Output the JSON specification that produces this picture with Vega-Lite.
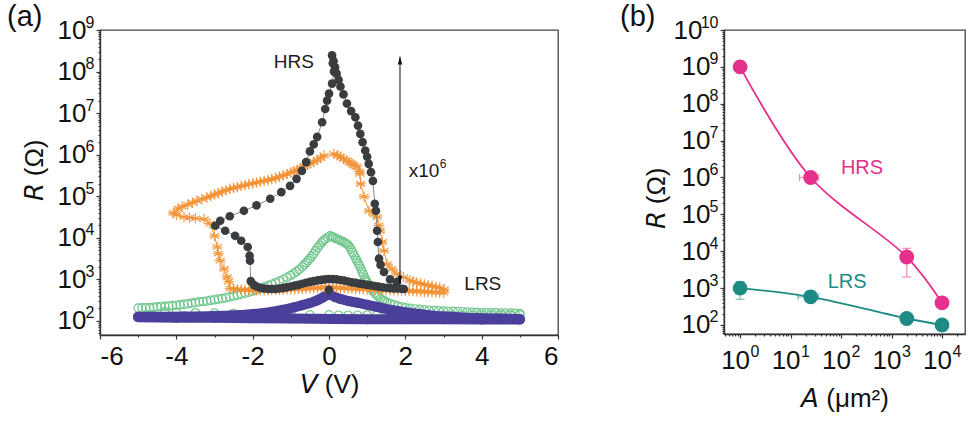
{
  "$schema": "https://vega.github.io/schema/vega-lite/v6.json",
  "background": "white",
  "padding": {"left": 6, "top": 2, "right": 2, "bottom": 0},
  "spacing": 59,
  "config": {
    "font": "Liberation Sans",
    "view": {"stroke": "#444", "strokeWidth": 1.3},
    "axis": {
      "domainColor": "#333", "domainWidth": 1.4, "tickColor": "#333", "tickWidth": 1.2, "tickSize": 4,
      "labelFont": "Liberation Sans", "labelFontSize": 26, "labelColor": "#111", "labelPadding": 3,
      "titleFont": "Liberation Sans", "titleFontSize": 26, "titleFontWeight": "normal", "titleColor": "#111",
      "grid": false
    },
    "title": {"font": "Liberation Sans", "fontSize": 29, "fontWeight": "normal", "color": "#111", "anchor": "start", "frame": "bounds"}
  },
  "datasets": {
    "iv": [
      {"s": "blk", "o": 1, "V": 0.08, "R": 2.45e8},
      {"s": "blk", "o": 2, "V": 0.12, "R": 1.78e8},
      {"s": "blk", "o": 3, "V": 0.16, "R": 1.26e8},
      {"s": "blk", "o": 4, "V": 0.2, "R": 8.91e7},
      {"s": "blk", "o": 5, "V": 0.25, "R": 6.31e7},
      {"s": "blk", "o": 6, "V": 0.3, "R": 4.37e7},
      {"s": "blk", "o": 7, "V": 0.38, "R": 2.82e7},
      {"s": "blk", "o": 8, "V": 0.47, "R": 1.7e7},
      {"s": "blk", "o": 9, "V": 0.58, "R": 1.12e7},
      {"s": "blk", "o": 10, "V": 0.69, "R": 7.94e6},
      {"s": "blk", "o": 11, "V": 0.76, "R": 5.01e6},
      {"s": "blk", "o": 12, "V": 0.82, "R": 3.16e6},
      {"s": "blk", "o": 13, "V": 0.88, "R": 2.0e6},
      {"s": "blk", "o": 14, "V": 0.95, "R": 1.26e6},
      {"s": "blk", "o": 15, "V": 1.0, "R": 8.91e5},
      {"s": "blk", "o": 16, "V": 1.04, "R": 6.03e5},
      {"s": "blk", "o": 17, "V": 1.1, "R": 3.8e5},
      {"s": "blk", "o": 18, "V": 1.15, "R": 2.34e5},
      {"s": "blk", "o": 19, "V": 1.2, "R": 6.61e4},
      {"s": "blk", "o": 20, "V": 1.23, "R": 4.47e4},
      {"s": "blk", "o": 21, "V": 1.26, "R": 1.48e4},
      {"s": "blk", "o": 22, "V": 1.28, "R": 7940},
      {"s": "blk", "o": 23, "V": 1.31, "R": 3160},
      {"s": "blk", "o": 24, "V": 1.35, "R": 2240},
      {"s": "blk", "o": 25, "V": 1.44, "R": 1510},
      {"s": "blk", "o": 26, "V": 1.6, "R": 1000},
      {"s": "blk", "o": 27, "V": 1.78, "R": 871},
      {"s": "blk", "o": 28, "V": 1.96, "R": 589},
      {"s": "blk", "o": 29, "V": 1.9, "R": 596},
      {"s": "blk", "o": 30, "V": 1.8, "R": 603},
      {"s": "blk", "o": 31, "V": 1.7, "R": 610},
      {"s": "blk", "o": 32, "V": 1.6, "R": 617},
      {"s": "blk", "o": 33, "V": 1.5, "R": 631},
      {"s": "blk", "o": 34, "V": 1.4, "R": 646},
      {"s": "blk", "o": 35, "V": 1.3, "R": 668},
      {"s": "blk", "o": 36, "V": 1.2, "R": 692},
      {"s": "blk", "o": 37, "V": 1.1, "R": 716},
      {"s": "blk", "o": 38, "V": 1.0, "R": 741},
      {"s": "blk", "o": 39, "V": 0.9, "R": 767},
      {"s": "blk", "o": 40, "V": 0.8, "R": 794},
      {"s": "blk", "o": 41, "V": 0.7, "R": 822},
      {"s": "blk", "o": 42, "V": 0.6, "R": 851},
      {"s": "blk", "o": 43, "V": 0.5, "R": 891},
      {"s": "blk", "o": 44, "V": 0.4, "R": 933},
      {"s": "blk", "o": 45, "V": 0.3, "R": 966},
      {"s": "blk", "o": 46, "V": 0.2, "R": 1000},
      {"s": "blk", "o": 47, "V": 0.1, "R": 1012},
      {"s": "blk", "o": 48, "V": 0.0, "R": 1023},
      {"s": "blk", "o": 49, "V": -0.1, "R": 1000},
      {"s": "blk", "o": 50, "V": -0.2, "R": 977},
      {"s": "blk", "o": 51, "V": -0.3, "R": 944},
      {"s": "blk", "o": 52, "V": -0.4, "R": 912},
      {"s": "blk", "o": 53, "V": -0.5, "R": 871},
      {"s": "blk", "o": 54, "V": -0.6, "R": 832},
      {"s": "blk", "o": 55, "V": -0.7, "R": 785},
      {"s": "blk", "o": 56, "V": -0.8, "R": 741},
      {"s": "blk", "o": 57, "V": -0.9, "R": 708},
      {"s": "blk", "o": 58, "V": -1.0, "R": 676},
      {"s": "blk", "o": 59, "V": -1.1, "R": 646},
      {"s": "blk", "o": 60, "V": -1.2, "R": 617},
      {"s": "blk", "o": 61, "V": -1.3, "R": 603},
      {"s": "blk", "o": 62, "V": -1.4, "R": 589},
      {"s": "blk", "o": 63, "V": -1.5, "R": 589},
      {"s": "blk", "o": 64, "V": -1.6, "R": 589},
      {"s": "blk", "o": 65, "V": -1.7, "R": 603},
      {"s": "blk", "o": 66, "V": -1.8, "R": 631},
      {"s": "blk", "o": 67, "V": -1.9, "R": 676},
      {"s": "blk", "o": 68, "V": -1.97, "R": 741},
      {"s": "blk", "o": 69, "V": -2.05, "R": 912},
      {"s": "blk", "o": 70, "V": -2.07, "R": 2820},
      {"s": "blk", "o": 71, "V": -2.08, "R": 3720},
      {"s": "blk", "o": 72, "V": -2.13, "R": 6030},
      {"s": "blk", "o": 73, "V": -2.3, "R": 8510},
      {"s": "blk", "o": 74, "V": -2.46, "R": 11200},
      {"s": "blk", "o": 75, "V": -2.72, "R": 14800},
      {"s": "blk", "o": 76, "V": -2.98, "R": 19500},
      {"s": "blk", "o": 77, "V": -2.85, "R": 25700},
      {"s": "blk", "o": 78, "V": -2.6, "R": 33100},
      {"s": "blk", "o": 79, "V": -2.23, "R": 44700},
      {"s": "blk", "o": 80, "V": -1.9, "R": 60300},
      {"s": "blk", "o": 81, "V": -1.54, "R": 87100},
      {"s": "blk", "o": 82, "V": -1.25, "R": 126000},
      {"s": "blk", "o": 83, "V": -1.02, "R": 178000},
      {"s": "blk", "o": 84, "V": -0.85, "R": 263000},
      {"s": "blk", "o": 85, "V": -0.71, "R": 407000},
      {"s": "blk", "o": 86, "V": -0.6, "R": 661000},
      {"s": "blk", "o": 87, "V": -0.5, "R": 1.2e6},
      {"s": "blk", "o": 88, "V": -0.4, "R": 1.78e6},
      {"s": "blk", "o": 89, "V": -0.31, "R": 2.69e6},
      {"s": "blk", "o": 90, "V": -0.18, "R": 6.03e6},
      {"s": "blk", "o": 91, "V": -0.1, "R": 1.26e7},
      {"s": "blk", "o": 92, "V": -0.05, "R": 2.0e7},
      {"s": "blk", "o": 93, "V": 0.0, "R": 2.95e7},
      {"s": "blk", "o": 94, "V": 0.08, "R": 5.13e7},
      {"s": "blk", "o": 95, "V": 0.13, "R": 1.0e8},
      {"s": "blk", "o": 96, "V": 0.1, "R": 1.58e8},
      {"s": "blk0", "o": 1, "V": 0.0, "R": 562},

      {"s": "org", "o": 1, "V": 0.13, "R": 1.05e6},
      {"s": "org", "o": 2, "V": 0.22, "R": 966000},
      {"s": "org", "o": 3, "V": 0.3, "R": 891000},
      {"s": "org", "o": 4, "V": 0.38, "R": 804000},
      {"s": "org", "o": 5, "V": 0.47, "R": 724000},
      {"s": "org", "o": 6, "V": 0.53, "R": 661000},
      {"s": "org", "o": 7, "V": 0.6, "R": 603000},
      {"s": "org", "o": 8, "V": 0.66, "R": 556000},
      {"s": "org", "o": 9, "V": 0.73, "R": 513000},
      {"s": "org", "o": 10, "V": 0.8, "R": 398000},
      {"s": "org", "o": 11, "V": 0.81, "R": 347000},
      {"s": "org", "o": 12, "V": 0.83, "R": 200000},
      {"s": "org", "o": 13, "V": 0.92, "R": 97700},
      {"s": "org", "o": 14, "V": 1.05, "R": 44700},
      {"s": "org", "o": 15, "V": 1.18, "R": 37200},
      {"s": "org", "o": 16, "V": 1.26, "R": 31600},
      {"s": "org", "o": 17, "V": 1.3, "R": 20000},
      {"s": "org", "o": 18, "V": 1.34, "R": 14800},
      {"s": "org", "o": 19, "V": 1.4, "R": 7940},
      {"s": "org", "o": 20, "V": 1.44, "R": 4900},
      {"s": "org", "o": 21, "V": 1.52, "R": 2340},
      {"s": "org", "o": 22, "V": 1.65, "R": 1780},
      {"s": "org", "o": 23, "V": 1.78, "R": 1350},
      {"s": "org", "o": 24, "V": 1.95, "R": 1120},
      {"s": "org", "o": 25, "V": 2.12, "R": 955},
      {"s": "org", "o": 26, "V": 2.2, "R": 900},
      {"s": "org", "o": 27, "V": 2.3, "R": 832},
      {"s": "org", "o": 28, "V": 2.4, "R": 794},
      {"s": "org", "o": 29, "V": 2.5, "R": 759},
      {"s": "org", "o": 30, "V": 2.6, "R": 724},
      {"s": "org", "o": 31, "V": 2.7, "R": 692},
      {"s": "org", "o": 32, "V": 2.8, "R": 661},
      {"s": "org", "o": 33, "V": 2.9, "R": 631},
      {"s": "org", "o": 34, "V": 3.02, "R": 575},
      {"s": "org", "o": 35, "V": 3.0, "R": 479},
      {"s": "org", "o": 36, "V": 2.9, "R": 485},
      {"s": "org", "o": 37, "V": 2.8, "R": 490},
      {"s": "org", "o": 38, "V": 2.7, "R": 495},
      {"s": "org", "o": 39, "V": 2.6, "R": 501},
      {"s": "org", "o": 40, "V": 2.5, "R": 507},
      {"s": "org", "o": 41, "V": 2.4, "R": 513},
      {"s": "org", "o": 42, "V": 2.3, "R": 519},
      {"s": "org", "o": 43, "V": 2.2, "R": 525},
      {"s": "org", "o": 44, "V": 2.1, "R": 531},
      {"s": "org", "o": 45, "V": 2.0, "R": 537},
      {"s": "org", "o": 46, "V": 1.9, "R": 543},
      {"s": "org", "o": 47, "V": 1.8, "R": 550},
      {"s": "org", "o": 48, "V": 1.7, "R": 550},
      {"s": "org", "o": 49, "V": 1.6, "R": 550},
      {"s": "org", "o": 50, "V": 1.5, "R": 556},
      {"s": "org", "o": 51, "V": 1.4, "R": 562},
      {"s": "org", "o": 52, "V": 1.3, "R": 562},
      {"s": "org", "o": 53, "V": 1.2, "R": 562},
      {"s": "org", "o": 54, "V": 1.1, "R": 569},
      {"s": "org", "o": 55, "V": 1.0, "R": 575},
      {"s": "org", "o": 56, "V": 0.9, "R": 582},
      {"s": "org", "o": 57, "V": 0.8, "R": 589},
      {"s": "org", "o": 58, "V": 0.7, "R": 596},
      {"s": "org", "o": 59, "V": 0.6, "R": 603},
      {"s": "org", "o": 60, "V": 0.5, "R": 610},
      {"s": "org", "o": 61, "V": 0.4, "R": 617},
      {"s": "org", "o": 62, "V": 0.3, "R": 624},
      {"s": "org", "o": 63, "V": 0.2, "R": 631},
      {"s": "org", "o": 64, "V": 0.1, "R": 639},
      {"s": "org", "o": 65, "V": 0.0, "R": 646},
      {"s": "org", "o": 66, "V": -0.1, "R": 639},
      {"s": "org", "o": 67, "V": -0.2, "R": 631},
      {"s": "org", "o": 68, "V": -0.3, "R": 624},
      {"s": "org", "o": 69, "V": -0.4, "R": 617},
      {"s": "org", "o": 70, "V": -0.5, "R": 610},
      {"s": "org", "o": 71, "V": -0.6, "R": 603},
      {"s": "org", "o": 72, "V": -0.7, "R": 596},
      {"s": "org", "o": 73, "V": -0.8, "R": 589},
      {"s": "org", "o": 74, "V": -0.9, "R": 582},
      {"s": "org", "o": 75, "V": -1.0, "R": 575},
      {"s": "org", "o": 76, "V": -1.1, "R": 569},
      {"s": "org", "o": 77, "V": -1.2, "R": 562},
      {"s": "org", "o": 78, "V": -1.3, "R": 562},
      {"s": "org", "o": 79, "V": -1.4, "R": 562},
      {"s": "org", "o": 80, "V": -1.5, "R": 556},
      {"s": "org", "o": 81, "V": -1.6, "R": 550},
      {"s": "org", "o": 82, "V": -1.7, "R": 550},
      {"s": "org", "o": 83, "V": -1.8, "R": 550},
      {"s": "org", "o": 84, "V": -1.9, "R": 550},
      {"s": "org", "o": 85, "V": -2.0, "R": 550},
      {"s": "org", "o": 86, "V": -2.1, "R": 556},
      {"s": "org", "o": 87, "V": -2.2, "R": 562},
      {"s": "org", "o": 88, "V": -2.3, "R": 569},
      {"s": "org", "o": 89, "V": -2.4, "R": 575},
      {"s": "org", "o": 90, "V": -2.5, "R": 589},
      {"s": "org", "o": 91, "V": -2.59, "R": 603},
      {"s": "org", "o": 92, "V": -2.63, "R": 891},
      {"s": "org", "o": 93, "V": -2.67, "R": 1150},
      {"s": "org", "o": 94, "V": -2.75, "R": 1780},
      {"s": "org", "o": 95, "V": -2.85, "R": 2820},
      {"s": "org", "o": 96, "V": -2.9, "R": 4170},
      {"s": "org", "o": 97, "V": -2.93, "R": 6030},
      {"s": "org", "o": 98, "V": -3.0, "R": 11200},
      {"s": "org", "o": 99, "V": -3.12, "R": 21900},
      {"s": "org", "o": 100, "V": -3.27, "R": 28200},
      {"s": "org", "o": 101, "V": -3.5, "R": 29500},
      {"s": "org", "o": 102, "V": -3.65, "R": 30500},
      {"s": "org", "o": 103, "V": -3.8, "R": 31600},
      {"s": "org", "o": 104, "V": -4.0, "R": 35500},
      {"s": "org", "o": 105, "V": -4.08, "R": 39800},
      {"s": "org", "o": 106, "V": -3.95, "R": 50100},
      {"s": "org", "o": 107, "V": -3.85, "R": 56200},
      {"s": "org", "o": 108, "V": -3.7, "R": 63100},
      {"s": "org", "o": 109, "V": -3.58, "R": 70000},
      {"s": "org", "o": 110, "V": -3.46, "R": 77600},
      {"s": "org", "o": 111, "V": -3.33, "R": 85100},
      {"s": "org", "o": 112, "V": -3.2, "R": 93300},
      {"s": "org", "o": 113, "V": -3.1, "R": 101000},
      {"s": "org", "o": 114, "V": -3.0, "R": 110000},
      {"s": "org", "o": 115, "V": -2.9, "R": 119000},
      {"s": "org", "o": 116, "V": -2.8, "R": 129000},
      {"s": "org", "o": 117, "V": -2.7, "R": 140000},
      {"s": "org", "o": 118, "V": -2.6, "R": 151000},
      {"s": "org", "o": 119, "V": -2.5, "R": 158000},
      {"s": "org", "o": 120, "V": -2.4, "R": 166000},
      {"s": "org", "o": 121, "V": -2.3, "R": 176000},
      {"s": "org", "o": 122, "V": -2.2, "R": 186000},
      {"s": "org", "o": 123, "V": -2.1, "R": 195000},
      {"s": "org", "o": 124, "V": -2.0, "R": 204000},
      {"s": "org", "o": 125, "V": -1.9, "R": 214000},
      {"s": "org", "o": 126, "V": -1.8, "R": 224000},
      {"s": "org", "o": 127, "V": -1.7, "R": 234000},
      {"s": "org", "o": 128, "V": -1.6, "R": 245000},
      {"s": "org", "o": 129, "V": -1.5, "R": 260000},
      {"s": "org", "o": 130, "V": -1.4, "R": 275000},
      {"s": "org", "o": 131, "V": -1.3, "R": 295000},
      {"s": "org", "o": 132, "V": -1.2, "R": 316000},
      {"s": "org", "o": 133, "V": -1.1, "R": 343000},
      {"s": "org", "o": 134, "V": -1.0, "R": 372000},
      {"s": "org", "o": 135, "V": -0.92, "R": 398000},
      {"s": "org", "o": 136, "V": -0.84, "R": 427000},
      {"s": "org", "o": 137, "V": -0.75, "R": 473000},
      {"s": "org", "o": 138, "V": -0.65, "R": 525000},
      {"s": "org", "o": 139, "V": -0.57, "R": 569000},
      {"s": "org", "o": 140, "V": -0.5, "R": 617000},
      {"s": "org", "o": 141, "V": -0.4, "R": 676000},
      {"s": "org", "o": 142, "V": -0.31, "R": 741000},
      {"s": "org", "o": 143, "V": -0.22, "R": 841000},
      {"s": "org", "o": 144, "V": -0.13, "R": 955000},

      {"s": "grn", "o": 1, "V": -5.0, "R": 204},
      {"s": "grn", "o": 2, "V": -4.9, "R": 207},
      {"s": "grn", "o": 3, "V": -4.8, "R": 209},
      {"s": "grn", "o": 4, "V": -4.7, "R": 211},
      {"s": "grn", "o": 5, "V": -4.6, "R": 214},
      {"s": "grn", "o": 6, "V": -4.5, "R": 219},
      {"s": "grn", "o": 7, "V": -4.4, "R": 224},
      {"s": "grn", "o": 8, "V": -4.3, "R": 226},
      {"s": "grn", "o": 9, "V": -4.2, "R": 229},
      {"s": "grn", "o": 10, "V": -4.1, "R": 234},
      {"s": "grn", "o": 11, "V": -4.0, "R": 240},
      {"s": "grn", "o": 12, "V": -3.9, "R": 245},
      {"s": "grn", "o": 13, "V": -3.8, "R": 251},
      {"s": "grn", "o": 14, "V": -3.7, "R": 260},
      {"s": "grn", "o": 15, "V": -3.6, "R": 269},
      {"s": "grn", "o": 16, "V": -3.5, "R": 279},
      {"s": "grn", "o": 17, "V": -3.4, "R": 288},
      {"s": "grn", "o": 18, "V": -3.3, "R": 295},
      {"s": "grn", "o": 19, "V": -3.2, "R": 302},
      {"s": "grn", "o": 20, "V": -3.1, "R": 313},
      {"s": "grn", "o": 21, "V": -3.0, "R": 324},
      {"s": "grn", "o": 22, "V": -2.9, "R": 335},
      {"s": "grn", "o": 23, "V": -2.8, "R": 347},
      {"s": "grn", "o": 24, "V": -2.7, "R": 363},
      {"s": "grn", "o": 25, "V": -2.6, "R": 380},
      {"s": "grn", "o": 26, "V": -2.5, "R": 398},
      {"s": "grn", "o": 27, "V": -2.4, "R": 417},
      {"s": "grn", "o": 28, "V": -2.3, "R": 442},
      {"s": "grn", "o": 29, "V": -2.2, "R": 468},
      {"s": "grn", "o": 30, "V": -2.1, "R": 495},
      {"s": "grn", "o": 31, "V": -2.0, "R": 525},
      {"s": "grn", "o": 32, "V": -1.9, "R": 562},
      {"s": "grn", "o": 33, "V": -1.8, "R": 603},
      {"s": "grn", "o": 34, "V": -1.7, "R": 653},
      {"s": "grn", "o": 35, "V": -1.6, "R": 708},
      {"s": "grn", "o": 36, "V": -1.5, "R": 767},
      {"s": "grn", "o": 37, "V": -1.4, "R": 832},
      {"s": "grn", "o": 38, "V": -1.3, "R": 912},
      {"s": "grn", "o": 39, "V": -1.2, "R": 1000},
      {"s": "grn", "o": 40, "V": -1.1, "R": 1122},
      {"s": "grn", "o": 41, "V": -1.0, "R": 1259},
      {"s": "grn", "o": 42, "V": -0.92, "R": 1396},
      {"s": "grn", "o": 43, "V": -0.85, "R": 1549},
      {"s": "grn", "o": 44, "V": -0.78, "R": 1738},
      {"s": "grn", "o": 45, "V": -0.7, "R": 1995},
      {"s": "grn", "o": 46, "V": -0.65, "R": 2239},
      {"s": "grn", "o": 47, "V": -0.6, "R": 2512},
      {"s": "grn", "o": 48, "V": -0.55, "R": 2818},
      {"s": "grn", "o": 49, "V": -0.5, "R": 3162},
      {"s": "grn", "o": 50, "V": -0.45, "R": 3631},
      {"s": "grn", "o": 51, "V": -0.4, "R": 4169},
      {"s": "grn", "o": 52, "V": -0.35, "R": 4898},
      {"s": "grn", "o": 53, "V": -0.3, "R": 5754},
      {"s": "grn", "o": 54, "V": -0.25, "R": 6607},
      {"s": "grn", "o": 55, "V": -0.2, "R": 7586},
      {"s": "grn", "o": 56, "V": -0.15, "R": 8511},
      {"s": "grn", "o": 57, "V": -0.1, "R": 9333},
      {"s": "grn", "o": 58, "V": -0.04, "R": 10230},
      {"s": "grn", "o": 59, "V": 0.03, "R": 11220},
      {"s": "grn", "o": 60, "V": 0.08, "R": 10720},
      {"s": "grn", "o": 61, "V": 0.12, "R": 10230},
      {"s": "grn", "o": 62, "V": 0.17, "R": 9772},
      {"s": "grn", "o": 63, "V": 0.22, "R": 9333},
      {"s": "grn", "o": 64, "V": 0.27, "R": 8913},
      {"s": "grn", "o": 65, "V": 0.32, "R": 8511},
      {"s": "grn", "o": 66, "V": 0.37, "R": 8035},
      {"s": "grn", "o": 67, "V": 0.42, "R": 7586},
      {"s": "grn", "o": 68, "V": 0.46, "R": 7161},
      {"s": "grn", "o": 69, "V": 0.5, "R": 6761},
      {"s": "grn", "o": 70, "V": 0.54, "R": 6026},
      {"s": "grn", "o": 71, "V": 0.58, "R": 5248},
      {"s": "grn", "o": 72, "V": 0.62, "R": 4467},
      {"s": "grn", "o": 73, "V": 0.66, "R": 3802},
      {"s": "grn", "o": 74, "V": 0.7, "R": 3236},
      {"s": "grn", "o": 75, "V": 0.73, "R": 2818},
      {"s": "grn", "o": 76, "V": 0.77, "R": 2399},
      {"s": "grn", "o": 77, "V": 0.8, "R": 2089},
      {"s": "grn", "o": 78, "V": 0.84, "R": 1778},
      {"s": "grn", "o": 79, "V": 0.87, "R": 1514},
      {"s": "grn", "o": 80, "V": 0.9, "R": 1318},
      {"s": "grn", "o": 81, "V": 0.94, "R": 1096},
      {"s": "grn", "o": 82, "V": 0.97, "R": 955},
      {"s": "grn", "o": 83, "V": 1.0, "R": 851},
      {"s": "grn", "o": 84, "V": 1.04, "R": 741},
      {"s": "grn", "o": 85, "V": 1.07, "R": 661},
      {"s": "grn", "o": 86, "V": 1.11, "R": 589},
      {"s": "grn", "o": 87, "V": 1.15, "R": 525},
      {"s": "grn", "o": 88, "V": 1.2, "R": 468},
      {"s": "grn", "o": 89, "V": 1.25, "R": 417},
      {"s": "grn", "o": 90, "V": 1.3, "R": 380},
      {"s": "grn", "o": 91, "V": 1.35, "R": 347},
      {"s": "grn", "o": 92, "V": 1.4, "R": 324},
      {"s": "grn", "o": 93, "V": 1.45, "R": 302},
      {"s": "grn", "o": 94, "V": 1.52, "R": 282},
      {"s": "grn", "o": 95, "V": 1.6, "R": 263},
      {"s": "grn", "o": 96, "V": 1.7, "R": 245},
      {"s": "grn", "o": 97, "V": 1.8, "R": 229},
      {"s": "grn", "o": 98, "V": 1.9, "R": 219},
      {"s": "grn", "o": 99, "V": 2.0, "R": 209},
      {"s": "grn", "o": 100, "V": 2.12, "R": 202},
      {"s": "grn", "o": 101, "V": 2.25, "R": 195},
      {"s": "grn", "o": 102, "V": 2.37, "R": 191},
      {"s": "grn", "o": 103, "V": 2.5, "R": 186},
      {"s": "grn", "o": 104, "V": 2.62, "R": 182},
      {"s": "grn", "o": 105, "V": 2.75, "R": 178},
      {"s": "grn", "o": 106, "V": 2.87, "R": 176},
      {"s": "grn", "o": 107, "V": 3.0, "R": 174},
      {"s": "grn", "o": 108, "V": 3.12, "R": 172},
      {"s": "grn", "o": 109, "V": 3.25, "R": 170},
      {"s": "grn", "o": 110, "V": 3.37, "R": 168},
      {"s": "grn", "o": 111, "V": 3.5, "R": 166},
      {"s": "grn", "o": 112, "V": 3.62, "R": 164},
      {"s": "grn", "o": 113, "V": 3.75, "R": 162},
      {"s": "grn", "o": 114, "V": 3.87, "R": 160},
      {"s": "grn", "o": 115, "V": 4.0, "R": 158},
      {"s": "grn", "o": 116, "V": 4.12, "R": 158},
      {"s": "grn", "o": 117, "V": 4.25, "R": 158},
      {"s": "grn", "o": 118, "V": 4.37, "R": 157},
      {"s": "grn", "o": 119, "V": 4.5, "R": 155},
      {"s": "grn", "o": 120, "V": 4.62, "R": 155},
      {"s": "grn", "o": 121, "V": 4.75, "R": 155},
      {"s": "grn", "o": 122, "V": 4.87, "R": 153},
      {"s": "grn", "o": 123, "V": 5.0, "R": 151},
      {"s": "grn", "o": 124, "V": 5.0, "R": 140},
      {"s": "grn", "o": 125, "V": 4.75, "R": 139},
      {"s": "grn", "o": 126, "V": 4.5, "R": 139},
      {"s": "grn", "o": 127, "V": 4.25, "R": 139},
      {"s": "grn", "o": 128, "V": 4.0, "R": 138},
      {"s": "grn", "o": 129, "V": 3.75, "R": 138},
      {"s": "grn", "o": 130, "V": 3.5, "R": 138},
      {"s": "grn", "o": 131, "V": 3.25, "R": 138},
      {"s": "grn", "o": 132, "V": 3.0, "R": 138},
      {"s": "grn", "o": 133, "V": 2.75, "R": 138},
      {"s": "grn", "o": 134, "V": 2.5, "R": 138},
      {"s": "grn", "o": 135, "V": 2.25, "R": 138},
      {"s": "grn", "o": 136, "V": 2.0, "R": 138},
      {"s": "grn", "o": 137, "V": 1.75, "R": 138},
      {"s": "grn", "o": 138, "V": 1.5, "R": 138},
      {"s": "grn", "o": 139, "V": 1.25, "R": 138},
      {"s": "grn", "o": 140, "V": 1.0, "R": 138},
      {"s": "grn", "o": 141, "V": 0.75, "R": 138},
      {"s": "grn", "o": 142, "V": 0.5, "R": 138},
      {"s": "grn", "o": 143, "V": 0.25, "R": 138},
      {"s": "grn", "o": 144, "V": 0.0, "R": 140},
      {"s": "grn", "o": 145, "V": -0.5, "R": 141},
      {"s": "grn", "o": 146, "V": -1.0, "R": 143},
      {"s": "grn", "o": 147, "V": -1.5, "R": 145},
      {"s": "grn", "o": 148, "V": -2.0, "R": 148},
      {"s": "grn", "o": 149, "V": -2.5, "R": 151},
      {"s": "grn", "o": 150, "V": -3.0, "R": 155},
      {"s": "grn", "o": 151, "V": -3.5, "R": 158},
      {"s": "grn", "o": 152, "V": -4.0, "R": 162},
      {"s": "grn", "o": 153, "V": -4.3, "R": 166},

      {"s": "pur", "o": 1, "V": -5.0, "R": 126},
      {"s": "pur", "o": 2, "V": -4.6, "R": 126},
      {"s": "pur", "o": 3, "V": -4.2, "R": 126},
      {"s": "pur", "o": 4, "V": -3.8, "R": 129},
      {"s": "pur", "o": 5, "V": -3.4, "R": 129},
      {"s": "pur", "o": 6, "V": -3.0, "R": 132},
      {"s": "pur", "o": 7, "V": -2.6, "R": 135},
      {"s": "pur", "o": 8, "V": -2.2, "R": 141},
      {"s": "pur", "o": 9, "V": -1.8, "R": 151},
      {"s": "pur", "o": 10, "V": -1.5, "R": 166},
      {"s": "pur", "o": 11, "V": -1.2, "R": 186},
      {"s": "pur", "o": 12, "V": -0.9, "R": 214},
      {"s": "pur", "o": 13, "V": -0.7, "R": 240},
      {"s": "pur", "o": 14, "V": -0.5, "R": 269},
      {"s": "pur", "o": 15, "V": -0.3, "R": 316},
      {"s": "pur", "o": 16, "V": -0.15, "R": 372},
      {"s": "pur", "o": 17, "V": 0.0, "R": 447},
      {"s": "pur", "o": 18, "V": 0.15, "R": 380},
      {"s": "pur", "o": 19, "V": 0.3, "R": 339},
      {"s": "pur", "o": 20, "V": 0.5, "R": 302},
      {"s": "pur", "o": 21, "V": 0.75, "R": 275},
      {"s": "pur", "o": 22, "V": 1.0, "R": 245},
      {"s": "pur", "o": 23, "V": 1.3, "R": 214},
      {"s": "pur", "o": 24, "V": 1.6, "R": 186},
      {"s": "pur", "o": 25, "V": 2.0, "R": 162},
      {"s": "pur", "o": 26, "V": 2.4, "R": 145},
      {"s": "pur", "o": 27, "V": 2.8, "R": 132},
      {"s": "pur", "o": 28, "V": 3.2, "R": 126},
      {"s": "pur", "o": 29, "V": 3.6, "R": 120},
      {"s": "pur", "o": 30, "V": 4.0, "R": 117},
      {"s": "pur", "o": 31, "V": 4.5, "R": 115},
      {"s": "pur", "o": 32, "V": 5.0, "R": 112},
      {"s": "pur", "o": 33, "V": 5.0, "R": 108},
      {"s": "pur", "o": 34, "V": 4.0, "R": 108},
      {"s": "pur", "o": 35, "V": 3.0, "R": 110},
      {"s": "pur", "o": 36, "V": 2.0, "R": 110},
      {"s": "pur", "o": 37, "V": 1.0, "R": 110},
      {"s": "pur", "o": 38, "V": 0.1, "R": 112},
      {"s": "pur", "o": 39, "V": -1.0, "R": 115},
      {"s": "pur", "o": 40, "V": -2.0, "R": 117},
      {"s": "pur", "o": 41, "V": -3.0, "R": 120},
      {"s": "pur", "o": 42, "V": -4.0, "R": 120},
      {"s": "pur", "o": 43, "V": -5.0, "R": 123}
    ],
    "decadesA": [
      {"R": 1e2}, {"R": 1e3}, {"R": 1e4}, {"R": 1e5}, {"R": 1e6}, {"R": 1e7}, {"R": 1e8}, {"R": 1e9}
    ],
    "arrow": [
      {"V": 1.86, "lo": 776, "hi": 2.29e8}
    ],
    "heads": [
      {"end": "top", "V": 1.86, "R": 1.84e8},
      {"end": "bottom", "V": 1.86, "R": 977}
    ],
    "notesA": [
      {"t": "HRS", "V": -0.92, "R": 1.74e8},
      {"t": "LRS", "V": 4.03, "R": 776}
    ],
    "factor": [
      {"t": "x10", "sup": "6", "V": 2.09, "R": 4.07e5}
    ],
    "area": [
      {"st": "HRS", "A": 1, "R": 1.0e9},
      {"st": "HRS", "A": 25, "R": 1.0e6, "xlo": 15, "xhi": 36},
      {"st": "HRS", "A": 2000, "R": 7000, "ylo": 2000, "yhi": 12000},
      {"st": "HRS", "A": 10000, "R": 400},
      {"st": "LRS", "A": 1, "R": 1000, "ylo": 500, "yhi": 1500},
      {"st": "LRS", "A": 25, "R": 580, "xlo": 14, "xhi": 36},
      {"st": "LRS", "A": 2000, "R": 150},
      {"st": "LRS", "A": 10000, "R": 100}
    ],
    "notesB": [
      {"st": "HRS", "A": 260, "R": 1.8e6},
      {"st": "LRS", "A": 132, "R": 1480}
    ]
  },
  "hconcat": [
    {
      "width": 458,
      "height": 305,
      "title": {"text": "(a)", "offset": -18, "dx": -14},
      "encoding": {
        "x": {"field": "V", "type": "quantitative", "scale": {"domain": [-6, 6], "nice": false, "zero": false}, "axis": null},
        "y": {"field": "R", "type": "quantitative", "scale": {"type": "log", "domain": [46, 1e9], "nice": false}, "axis": null}
      },
      "layer": [
        {
          "data": {"name": "iv"},
          "mark": {"type": "point", "opacity": 0},
          "encoding": {
            "x": {"field": "V", "type": "quantitative", "scale": {"domain": [-6, 6], "nice": false, "zero": false},
                  "axis": {"orient": "bottom", "values": [-6, -4, -2, 0, 2, 4, 6], "labelExpr": "datum.value + ''", "labelPadding": 4, "title": "𝘝 (V)", "titlePadding": 2}},
            "y": {"field": "R", "type": "quantitative", "scale": {"type": "log", "domain": [46, 1e9], "nice": false},
                  "axis": {"orient": "left", "values": [1e2, 1e3, 1e4, 1e5, 1e6, 1e7, 1e8, 1e9], "labelExpr": "'10'", "labelPadding": 10,
                           "title": "𝘙 (Ω)", "titlePadding": 10, "titleY": 140}}
          }
        },
        {
          "data": {"name": "decadesA"},
          "mark": {"type": "point", "opacity": 0},
          "encoding": {
            "y": {"field": "R", "type": "quantitative", "scale": {"type": "log", "domain": [46, 1e9], "nice": false},
                  "axis": {"orient": "left", "values": [1e2, 1e3, 1e4, 1e5, 1e6, 1e7, 1e8, 1e9],
                           "labelExpr": "format(round(log(datum.value)/LN10), 'd')",
                           "labelFontSize": 16, "labelPadding": 2, "labelOffset": -8, "tickOpacity": 0, "domain": false, "title": null}}
          }
        },
        {
          "data": {"name": "iv"},
          "mark": {"type": "point", "opacity": 0},
          "encoding": {
            "x": {"field": "V", "type": "quantitative", "scale": {"domain": [-6, 6], "nice": false, "zero": false},
                  "axis": {"orient": "bottom", "values": [-5, -3, -1, 1, 3, 5], "labels": false, "domain": false, "tickSize": 2, "title": null}},
            "y": {"field": "R", "type": "quantitative", "scale": {"type": "log", "domain": [46, 1e9], "nice": false},
                  "axis": {"orient": "left", "labels": false, "domain": false, "tickSize": 2, "title": null,
                           "values": [50, 60, 70, 80, 90, 200, 300, 400, 500, 600, 700, 800, 900, 2000, 3000, 4000, 5000, 6000, 7000, 8000, 9000, 2e4, 3e4, 4e4, 5e4, 6e4, 7e4, 8e4, 9e4, 2e5, 3e5, 4e5, 5e5, 6e5, 7e5, 8e5, 9e5, 2e6, 3e6, 4e6, 5e6, 6e6, 7e6, 8e6, 9e6, 2e7, 3e7, 4e7, 5e7, 6e7, 7e7, 8e7, 9e7, 2e8, 3e8, 4e8, 5e8, 6e8, 7e8, 8e8, 9e8]}}
          }
        },
        {
          "data": {"name": "iv"},
          "transform": [{"filter": "datum.s === 'grn'"}],
          "mark": {"type": "point", "shape": "circle", "filled": false, "color": "#72C78E", "strokeWidth": 1.2, "opacity": 1, "size": 70}
        },
        {
          "data": {"name": "iv"},
          "transform": [{"filter": "datum.s === 'pur'"}],
          "mark": {"type": "line", "color": "#4B3F9C", "strokeWidth": 10, "strokeJoin": "round", "strokeCap": "round"},
          "encoding": {"order": {"field": "o"}}
        },
        {
          "data": {"name": "iv"},
          "transform": [{"filter": "datum.s === 'pur'"}],
          "mark": {"type": "point", "shape": "circle", "filled": true, "color": "#4B3F9C", "opacity": 1, "size": 100}
        },
        {
          "data": {"name": "iv"},
          "transform": [{"filter": "datum.s === 'org'"}],
          "mark": {"type": "line", "color": "#F39234", "strokeWidth": 1},
          "encoding": {"order": {"field": "o"}}
        },
        {
          "data": {"name": "iv"},
          "transform": [{"filter": "datum.s === 'org'"}],
          "mark": {"type": "point", "shape": "M0,-1L0,1M-0.87,-0.5L0.87,0.5M-0.87,0.5L0.87,-0.5M-1,0L1,0", "filled": false, "color": "#F39234", "strokeWidth": 1.2, "opacity": 0.9, "size": 110}
        },
        {
          "data": {"name": "iv"},
          "transform": [{"filter": "datum.s === 'blk'"}],
          "mark": {"type": "line", "color": "#8a8a8a", "strokeWidth": 1},
          "encoding": {"order": {"field": "o"}}
        },
        {
          "data": {"name": "iv"},
          "transform": [{"filter": "datum.s === 'blk' || datum.s === 'blk0'"}],
          "mark": {"type": "point", "shape": "circle", "filled": true, "color": "#3A3D40", "opacity": 1, "size": 75}
        },
        {
          "data": {"name": "arrow"},
          "mark": {"type": "rule", "color": "#111", "strokeWidth": 1},
          "encoding": {
            "y": {"field": "lo", "type": "quantitative", "scale": {"type": "log", "domain": [46, 1e9], "nice": false}, "axis": null},
            "y2": {"field": "hi"}
          }
        },
        {
          "data": {"name": "heads"},
          "transform": [{"filter": "datum.end === 'top'"}],
          "mark": {"type": "point", "shape": "M0,-1L0.55,1L-0.55,1Z", "filled": true, "color": "#111", "opacity": 1, "size": 64}
        },
        {
          "data": {"name": "heads"},
          "transform": [{"filter": "datum.end === 'bottom'"}],
          "mark": {"type": "point", "shape": "M0,1L0.55,-1L-0.55,-1Z", "filled": true, "color": "#111", "opacity": 1, "size": 64}
        },
        {
          "data": {"name": "notesA"},
          "mark": {"type": "text", "fontSize": 19, "color": "#1a1a1a", "align": "center", "baseline": "middle"},
          "encoding": {"text": {"field": "t"}}
        },
        {
          "data": {"name": "factor"},
          "mark": {"type": "text", "fontSize": 19, "color": "#1a1a1a", "align": "left", "baseline": "middle"},
          "encoding": {"text": {"field": "t"}}
        },
        {
          "data": {"name": "factor"},
          "mark": {"type": "text", "fontSize": 12, "color": "#1a1a1a", "align": "left", "baseline": "middle", "dx": 31, "dy": -7},
          "encoding": {"text": {"field": "sup"}}
        }
      ],
      "resolve": {"axis": {"x": "independent", "y": "independent"}}
    },
    {
      "width": 241,
      "height": 304,
      "title": {"text": "(b)", "offset": -18, "dx": -23},
      "encoding": {
        "x": {"field": "A", "type": "quantitative", "scale": {"type": "log", "domain": [0.48, 28500], "nice": false}, "axis": null},
        "y": {"field": "R", "type": "quantitative", "scale": {"type": "log", "domain": [57, 1e10], "nice": false}, "axis": null},
        "color": {"field": "st", "type": "nominal", "scale": {"domain": ["HRS", "LRS"], "range": ["#E5318B", "#1E8A84"]}, "legend": null}
      },
      "layer": [
        {
          "data": {"name": "area"},
          "mark": {"type": "point", "opacity": 0},
          "encoding": {
            "x": {"field": "A", "type": "quantitative", "scale": {"type": "log", "domain": [0.48, 28500], "nice": false},
                  "axis": {"orient": "bottom", "values": [1, 10, 100, 1000, 10000], "labelExpr": "'10'", "labelOffset": -5, "labelPadding": 9,
                           "title": "𝘈 (μm²)", "titlePadding": 12}},
            "y": {"field": "R", "type": "quantitative", "scale": {"type": "log", "domain": [57, 1e10], "nice": false},
                  "axis": {"orient": "left", "values": [1e2, 1e3, 1e4, 1e5, 1e6, 1e7, 1e8, 1e9, 1e10], "labelExpr": "'10'",
                           "labelPadding": {"condition": {"test": "datum.value > 5e9", "value": 18}, "value": 10},
                           "title": "𝘙 (Ω)", "titlePadding": 4, "titleY": 168}}
          }
        },
        {
          "data": {"name": "area"},
          "mark": {"type": "point", "opacity": 0},
          "encoding": {
            "x": {"field": "A", "type": "quantitative", "scale": {"type": "log", "domain": [0.48, 28500], "nice": false},
                  "axis": {"orient": "bottom", "values": [1, 10, 100, 1000, 10000],
                           "labelExpr": "format(round(log(datum.value)/LN10), 'd')", "labelAlign": "left",
                           "labelFontSize": 16, "labelOffset": 10, "labelPadding": 5, "tickOpacity": 0, "domain": false, "title": null}},
            "y": {"field": "R", "type": "quantitative", "scale": {"type": "log", "domain": [57, 1e10], "nice": false},
                  "axis": {"orient": "left", "values": [1e2, 1e3, 1e4, 1e5, 1e6, 1e7, 1e8, 1e9, 1e10],
                           "labelExpr": "format(round(log(datum.value)/LN10), 'd')",
                           "labelFontSize": 16, "labelPadding": 2, "labelOffset": -8, "tickOpacity": 0, "domain": false, "title": null}}
          }
        },
        {
          "data": {"name": "area"},
          "mark": {"type": "point", "opacity": 0},
          "encoding": {
            "x": {"field": "A", "type": "quantitative", "scale": {"type": "log", "domain": [0.48, 28500], "nice": false},
                  "axis": {"orient": "bottom", "labels": false, "domain": false, "tickSize": 2, "title": null,
                           "values": [0.5, 0.6, 0.7, 0.8, 0.9, 2, 3, 4, 5, 6, 7, 8, 9, 20, 30, 40, 50, 60, 70, 80, 90, 200, 300, 400, 500, 600, 700, 800, 900, 2000, 3000, 4000, 5000, 6000, 7000, 8000, 9000, 20000]}},
            "y": {"field": "R", "type": "quantitative", "scale": {"type": "log", "domain": [57, 1e10], "nice": false},
                  "axis": {"orient": "left", "labels": false, "domain": false, "tickSize": 2, "title": null,
                           "values": [60, 70, 80, 90, 200, 300, 400, 500, 600, 700, 800, 900, 2000, 3000, 4000, 5000, 6000, 7000, 8000, 9000, 2e4, 3e4, 4e4, 5e4, 6e4, 7e4, 8e4, 9e4, 2e5, 3e5, 4e5, 5e5, 6e5, 7e5, 8e5, 9e5, 2e6, 3e6, 4e6, 5e6, 6e6, 7e6, 8e6, 9e6, 2e7, 3e7, 4e7, 5e7, 6e7, 7e7, 8e7, 9e7, 2e8, 3e8, 4e8, 5e8, 6e8, 7e8, 8e8, 9e8, 2e9, 3e9, 4e9, 5e9, 6e9, 7e9, 8e9, 9e9]}}
          }
        },
        {
          "data": {"name": "area"},
          "transform": [{"filter": "isValid(datum.ylo)"}],
          "mark": {"type": "rule", "strokeWidth": 1.2, "opacity": 0.55},
          "encoding": {
            "y": {"field": "ylo", "type": "quantitative", "scale": {"type": "log", "domain": [57, 1e10], "nice": false}, "axis": null},
            "y2": {"field": "yhi"}
          }
        },
        {
          "data": {"name": "area"},
          "transform": [{"filter": "isValid(datum.ylo)"}, {"fold": ["ylo", "yhi"], "as": ["end", "bound"]}],
          "mark": {"type": "tick", "orient": "horizontal", "size": 9, "thickness": 1.2, "opacity": 0.55},
          "encoding": {
            "y": {"field": "bound", "type": "quantitative", "scale": {"type": "log", "domain": [57, 1e10], "nice": false}, "axis": null}
          }
        },
        {
          "data": {"name": "area"},
          "transform": [{"filter": "isValid(datum.xlo)"}],
          "mark": {"type": "rule", "strokeWidth": 1.2, "opacity": 0.55},
          "encoding": {
            "x": {"field": "xlo", "type": "quantitative", "scale": {"type": "log", "domain": [0.48, 28500], "nice": false}, "axis": null},
            "x2": {"field": "xhi"}
          }
        },
        {
          "data": {"name": "area"},
          "transform": [{"filter": "isValid(datum.xlo)"}, {"fold": ["xlo", "xhi"], "as": ["end", "bound"]}],
          "mark": {"type": "tick", "orient": "vertical", "size": 7, "thickness": 1.2, "opacity": 0.55},
          "encoding": {
            "x": {"field": "bound", "type": "quantitative", "scale": {"type": "log", "domain": [0.48, 28500], "nice": false}, "axis": null}
          }
        },
        {
          "data": {"name": "area"},
          "mark": {"type": "line", "interpolate": "catmull-rom", "strokeWidth": 1.8},
          "encoding": {"order": {"field": "A"}}
        },
        {
          "data": {"name": "area"},
          "mark": {"type": "point", "shape": "circle", "filled": true, "opacity": 1, "size": 220}
        },
        {
          "data": {"name": "notesB"},
          "mark": {"type": "text", "fontSize": 20, "align": "center", "baseline": "middle"},
          "encoding": {"text": {"field": "st"}}
        }
      ],
      "resolve": {"axis": {"x": "independent", "y": "independent"}}
    }
  ]
}
